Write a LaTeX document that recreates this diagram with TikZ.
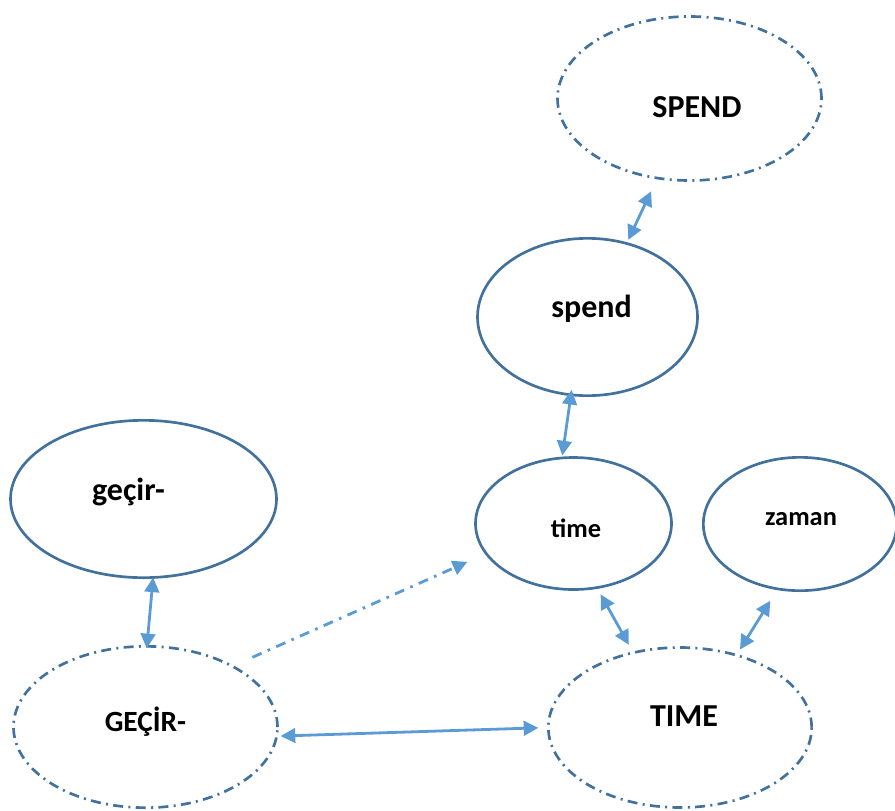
\documentclass[tikz,border=0pt]{standalone}
\usepackage{fontspec}
\setmainfont{Carlito}
\definecolor{ovalLine}{HTML}{41719C}
\definecolor{arrowBlue}{HTML}{5B9BD5}
\usetikzlibrary{shapes.geometric, arrows.meta}
\newcommand{\bigword}{\fontsize{24}{29}\selectfont\bfseries}
\newcommand{\midword}{\fontsize{22}{26}\selectfont\bfseries}
\newcommand{\smallword}{\fontsize{19.8}{24}\selectfont\bfseries}

\begin{document}
\begin{tikzpicture}[x=0.75pt, y=-0.75pt,
        sense/.style={ellipse, draw=ovalLine, line width=2pt, inner sep=0pt, outer sep=0pt},
        concept/.style={sense, dash pattern=on 7.5pt off 4pt on 1.5pt off 4pt},
        link/.style={draw=arrowBlue, line width=2.1pt,
              {Triangle[length=11pt,width=11pt]}-{Triangle[length=11pt,width=11pt]}},
        hint/.style={draw=arrowBlue, line width=2.1pt, dash pattern=on 7.5pt off 5pt on 2pt off 5pt,
              -{Triangle[length=11pt,width=11pt]}}]
        \useasboundingbox (0,0) rectangle (895,810);
        % concepts (dash-dot) and word senses (solid)
        \node[concept, minimum width=198pt, minimum height=123pt,
              label={[font=\bigword, xshift=5.6pt, yshift=-6.4pt]center:SPEND}] (concSpend) at (689.5,98.5) {};
        \node[sense, minimum width=165pt, minimum height=118pt,
              label={[font=\bigword, xshift=3pt, yshift=6pt]center:spend}] (wordSpend) at (587.5,317) {};
        \node[sense, minimum width=147pt, minimum height=99pt,
              label={[font=\smallword, xshift=1.9pt, yshift=-3.75pt]center:time}] (wordTime) at (573.5,523.5) {};
        \node[sense, minimum width=145pt, minimum height=100pt,
              label={[font=\smallword, xshift=0.75pt, yshift=3.4pt]center:zaman}] (wordZaman) at (800,524) {};
        \node[sense, minimum width=199.5pt, minimum height=118pt,
              label={[font=\bigword, xshift=-11.25pt, yshift=4.9pt]center:geçir-}] (wordGecir) at (143.5,499) {};
        \node[concept, minimum width=198pt, minimum height=121pt,
              label={[font=\midword, yshift=3.75pt]center:GEÇİR-}] (concGecir) at (145.5,727) {};
        \node[concept, minimum width=197.5pt, minimum height=120pt,
              label={[font=\bigword, xshift=3pt, yshift=8.25pt]center:TIME}] (concTime) at (680,727.5) {};
        % links
        \draw[link, shorten <=11pt, shorten >=3pt] (concSpend.248) -- (wordSpend.62);
        \draw[link, shorten <=-3.75pt, shorten >=1.9pt] (wordSpend.258) -- (wordTime.100);
        \draw[link, shorten >=-1.5pt] (wordGecir.277) -- (concGecir.89);
        \draw[link, shorten <=3pt, shorten >=7.5pt] (concGecir.-4) -- (concTime.180);
        \draw[link, shorten <=5.8pt, shorten >=6.8pt] (wordTime.-70) -- (concTime.122);
        \draw[link, shorten <=10.5pt, shorten >=5pt] (wordZaman.251.5) -- (concTime.52);
        \draw[hint, shorten <=16.5pt, shorten >=15.5pt] (concGecir.35) -- (wordTime.199);
      \end{tikzpicture}
\end{document}
